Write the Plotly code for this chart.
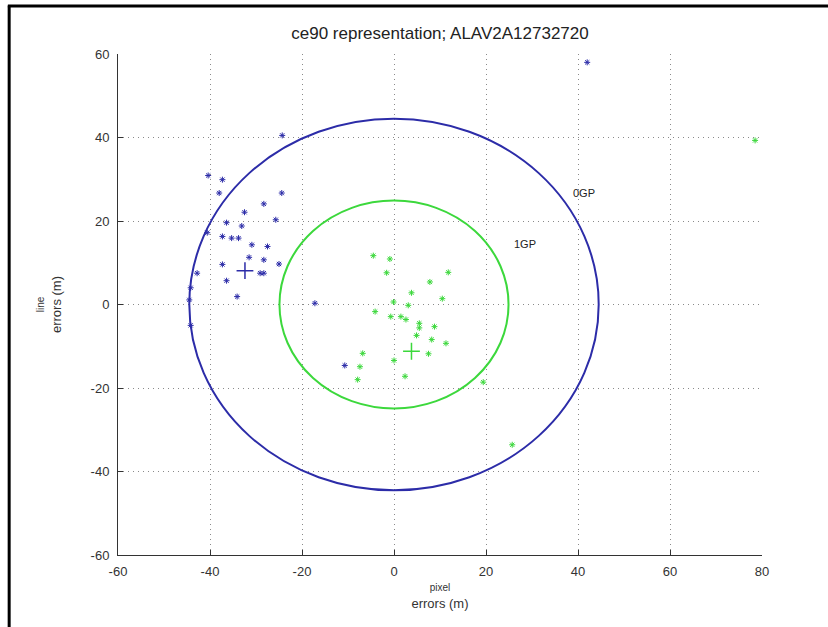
import plotly.graph_objects as go

# ---- data ----
title_text = "ce90 representation; ALAV2A12732720"

blue_x = [-40.4, -37.3, -38.0, -24.4, -28.3, -32.5, -36.4, -25.7, -33.1, -40.6,
          -37.3, -35.3, -33.8, -30.9, -27.5, -31.5, -28.3, -25.0, -37.3, -29.1,
          -28.3, -42.8, -36.4, -34.1, -44.2, -44.5, -44.2, -17.2, 42.0, -10.7, -24.3]
blue_y = [30.9, 29.9, 26.7, 26.7, 24.1, 22.1, 19.6, 20.3, 18.8, 17.2,
          16.3, 15.9, 15.9, 14.3, 13.9, 11.3, 10.7, 9.7, 9.6, 7.5,
          7.5, 7.5, 5.7, 1.9, 4.0, 1.1, -5.0, 0.3, 58.0, -14.6, 40.5]

green_x = [-4.5, -0.9, -1.6, 11.8, 7.8, 3.8, 10.5, 3.1, -0.1, -4.1,
           -0.7, 1.5, 2.6, 5.5, 5.5, 8.8, 4.9, 8.2, 11.3, 7.5,
           -6.8, -7.4, 0.0, -7.9, 2.4, 19.4, 25.7, 78.5]
green_y = [11.7, 10.9, 7.6, 7.7, 5.4, 2.8, 1.4, -0.2, 0.6, -1.7,
           -2.9, -2.9, -3.6, -4.5, -5.6, -5.3, -7.4, -8.4, -9.3, -11.8,
           -11.7, -14.9, -13.4, -18.0, -17.2, -18.6, -33.6, 39.3]

blue_mean = [-32.4, 8.1]
green_mean = [3.8, -11.2]

circle_names = ["0GP", "1GP"]
circle_radius = [44.5, 24.9]
label_x = [38.5, 25.7]
label_y = [26.6, 14.6]

x_ticks = [-60, -40, -20, 0, 20, 40, 60, 80]
x_tick_labels = ["-60", "-40", "-20", "0", "20", "40", "60", "80"]
y_ticks = [-60, -40, -20, 0, 20, 40, 60]
y_tick_labels = ["-60", "-40", "-20", "0", "20", "40", "60"]

BLUE = "#2c2ca8"
GREEN = "#3cd83c"
circle_colors = [BLUE, GREEN]

fig = go.Figure()

fig.add_trace(go.Scatter(x=blue_x, y=blue_y, mode="markers",
                         marker=dict(symbol="asterisk-open", size=5, color=BLUE,
                                     line=dict(color=BLUE, width=1)),
                         showlegend=False))
fig.add_trace(go.Scatter(x=green_x, y=green_y, mode="markers",
                         marker=dict(symbol="asterisk-open", size=5, color=GREEN,
                                     line=dict(color=GREEN, width=1)),
                         showlegend=False))
fig.add_trace(go.Scatter(x=[blue_mean[0]], y=[blue_mean[1]], mode="markers",
                         marker=dict(symbol="cross-thin-open", size=12, color=BLUE,
                                     line=dict(color=BLUE, width=1.5)),
                         showlegend=False))
fig.add_trace(go.Scatter(x=[green_mean[0]], y=[green_mean[1]], mode="markers",
                         marker=dict(symbol="cross-thin-open", size=12, color=GREEN,
                                     line=dict(color=GREEN, width=1.5)),
                         showlegend=False))

for r, c in zip(circle_radius, circle_colors):
    fig.add_shape(type="circle", xref="x", yref="y", x0=-r, y0=-r, x1=r, y1=r,
                  line=dict(color=c, width=2), layer="above")

for name, lx, ly in zip(circle_names, label_x, label_y):
    fig.add_annotation(x=lx, y=ly, text=name, showarrow=False, xanchor="left",
                       yanchor="middle", font=dict(size=11, color="#222"))

# outer frame lines (image border)
fig.add_shape(type="line", xref="paper", yref="paper", x0=-0.169, x1=-0.169,
              y0=-0.16, y1=1.097, line=dict(color="black", width=3))
fig.add_shape(type="line", xref="paper", yref="paper", x0=-0.171, x1=1.11,
              y0=1.096, y1=1.096, line=dict(color="black", width=3))

axis_common = dict(showgrid=True, gridcolor="#8a8a8a", griddash="1px,4px", gridwidth=1,
                   zeroline=False, showline=True, linecolor="#333", linewidth=1,
                   ticks="inside", ticklen=5, tickcolor="#333",
                   tickfont=dict(family="Liberation Sans, Arial, sans-serif", size=13, color="#333"))

fig.update_xaxes(range=[-60, 80], tickvals=x_ticks, ticktext=x_tick_labels,
                 ticklabelstandoff=4, **axis_common,
                 title=dict(text="<span style='font-size:10px'>pixel</span><br>errors (m)",
                            font=dict(size=13, color="#333"), standoff=4))
fig.update_yaxes(range=[-60, 60], tickvals=y_ticks, ticktext=y_tick_labels,
                 ticklabelstandoff=5, **axis_common,
                 title=dict(text="<span style='font-size:10px'>line</span><br>errors (m)",
                            font=dict(size=13, color="#333"), standoff=26))

fig.update_layout(
    width=828, height=627,
    margin=dict(l=118, r=66, t=54, b=72),
    paper_bgcolor="white", plot_bgcolor="white",
    font=dict(family="Liberation Sans, Arial, sans-serif", color="#333"),
    title=dict(text=title_text, x=0.5, xref="paper", xanchor="center",
               y=1 - 33 / 627, yanchor="middle",
               font=dict(size=17, color="#222")),
)

fig.write_html(
    "out.html",
    config={"displayModeBar": False},
    post_script=("document.body.style.margin='0px';"
                 "document.body.style.overflow='hidden';"
                 "document.documentElement.style.overflow='hidden';"),
)
